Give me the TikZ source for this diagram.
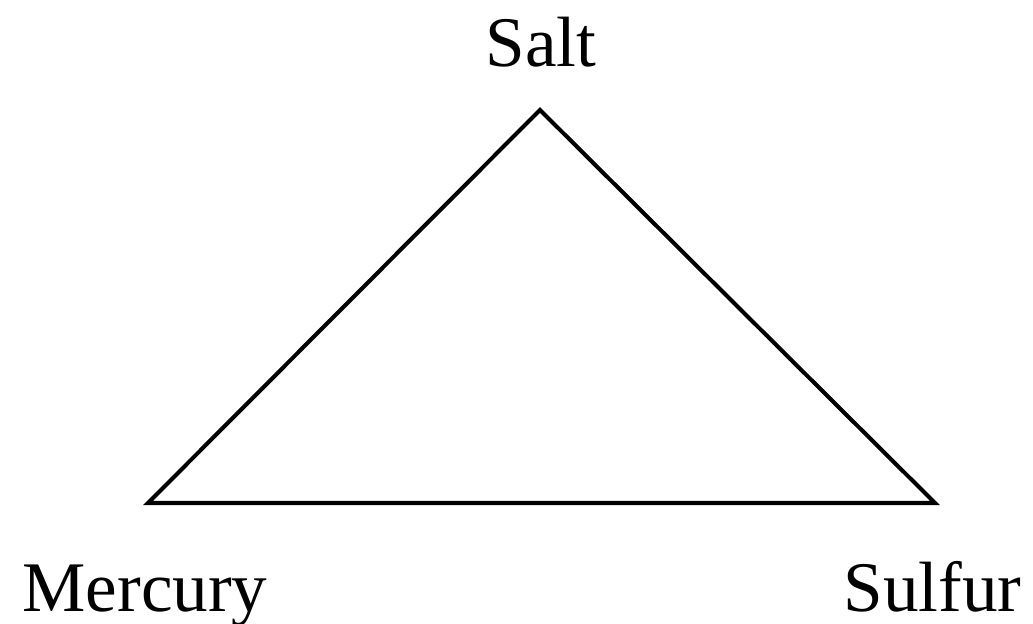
\documentclass[tikz,border=0pt]{standalone}
\usepackage{fontspec}
\setmainfont{Liberation Serif}
\usetikzlibrary{positioning,calc}

\tikzset{
  vertexlabel/.style={font=\fontsize{40.5}{44}\selectfont,inner sep=0pt,anchor=base},
  triline/.style={line width=2.3pt,draw=black,line join=miter}
}

\begin{document}
\begin{tikzpicture}
  \useasboundingbox (0,0) rectangle (20.66,12.48);

  \coordinate (top)   at (10.80,10.28);
  \coordinate (left)  at (2.96,2.42);
  \coordinate (right) at (18.70,2.42);

  \draw[triline] (top)--(right)--(left)--cycle;

  \node[vertexlabel] (salt)    at (10.82,11.14) {Salt};
  \node[vertexlabel] (mercury) at (2.90,0.24)   {Mercury};
  \node[vertexlabel] (sulfur)  at (18.65,0.24)  {Sulfur};
\end{tikzpicture}
\end{document}
